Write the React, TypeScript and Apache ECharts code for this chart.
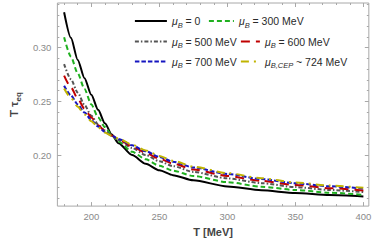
import React, { useEffect, useRef } from "react";
import * as echarts from "echarts";

const T_VALUES = [180, 185, 190, 195, 200, 205, 210, 215, 220, 230, 240, 250, 260, 275, 300, 325, 350, 375, 400];

const MU_0 = [0.3328, 0.3090, 0.2885, 0.2715, 0.2560, 0.2420, 0.2295, 0.2190, 0.2110, 0.2000, 0.1918, 0.1858, 0.1813, 0.1765, 0.1708, 0.1672, 0.1647, 0.1628, 0.1615];
const MU_300 = [0.3096, 0.2915, 0.2760, 0.2615, 0.2470, 0.2350, 0.2260, 0.2185, 0.2125, 0.2030, 0.1960, 0.1900, 0.1855, 0.1805, 0.1748, 0.1705, 0.1675, 0.1650, 0.1630];
const MU_500 = [0.2846, 0.2705, 0.2580, 0.2465, 0.2365, 0.2285, 0.2228, 0.2180, 0.2140, 0.2065, 0.2000, 0.1942, 0.1897, 0.1843, 0.1783, 0.1738, 0.1702, 0.1675, 0.1655];
const MU_600 = [0.2738, 0.2630, 0.2525, 0.2430, 0.2350, 0.2278, 0.2222, 0.2182, 0.2145, 0.2080, 0.2020, 0.1966, 0.1921, 0.1866, 0.1806, 0.1759, 0.1721, 0.1692, 0.1670];
const MU_700 = [0.2645, 0.2555, 0.2470, 0.2395, 0.2325, 0.2265, 0.2215, 0.2180, 0.2150, 0.2090, 0.2035, 0.1983, 0.1938, 0.1884, 0.1824, 0.1776, 0.1737, 0.1709, 0.1689];
const MU_CEP = [0.2618, 0.2532, 0.2450, 0.2378, 0.2315, 0.2258, 0.2210, 0.2178, 0.2155, 0.2097, 0.2043, 0.1992, 0.1947, 0.1892, 0.1832, 0.1784, 0.1745, 0.1716, 0.1695];

const X_MAJOR_TICKS = [200, 250, 300, 350, 400];
const X_MINOR_TICKS = [180, 190, 210, 220, 230, 240, 260, 270, 280, 290, 310, 320, 330, 340, 360, 370, 380, 390];
const Y_MAJOR_TICKS = [0.2, 0.25, 0.3];
const Y_MINOR_TICKS = [0.16, 0.17, 0.18, 0.19, 0.21, 0.22, 0.23, 0.24, 0.26, 0.27, 0.28, 0.29, 0.31, 0.32, 0.33, 0.34];

const SERIES_KEYS = ["mu0", "mu300", "mu500", "mu600", "mu700", "muCEP"];
const LEGEND_LABELS: Record<string, string> = {
  mu0: "{m|μ}{s|B}{t| = 0}",
  mu300: "{m|μ}{s|B}{t| = 300 MeV}",
  mu500: "{m|μ}{s|B}{t| = 500 MeV}",
  mu600: "{m|μ}{s|B}{t| = 600 MeV}",
  mu700: "{m|μ}{s|B}{t| = 700 MeV}",
  muCEP: "{m|μ}{s|B,CEP}{t| ~ 724 MeV}",
};
const X_NAME = "T [MeV]";
const Y_NAME = "{a|T τ}{b|eq}";

const X_MIN = 175.06;
const X_MAX = 404;
const Y_MIN = 0.1525;
const Y_MAX = 0.3414;

const FONT = "'Liberation Sans', Arial, sans-serif";
const FRAME = "#a8a8a8";

// legend item placement: [key, left, top, iconWidth]
const LEGEND_POS: [string, number, number, number][] = [
  ["mu0", 134, 15.5, 32],
  ["mu300", 208, 15.5, 25],
  ["mu500", 134, 36, 32],
  ["mu600", 240, 36, 19],
  ["mu700", 134, 56, 32],
  ["muCEP", 240, 56, 19],
];

export default function App() {
  const ref = useRef<HTMLDivElement>(null);
  useEffect(() => {
    if (!ref.current) return;
    const chart = echarts.init(ref.current, undefined, { renderer: "svg" });
    const seriesData = [MU_0, MU_300, MU_500, MU_600, MU_700, MU_CEP];
    const styles: any[] = [
      { color: "#000000", type: "solid" },
      { color: "#20b020", type: [5, 3] },
      { color: "#555555", type: [4, 2, 1.5, 2] },
      { color: "#c00000", type: [9, 6] },
      { color: "#1515c0", type: [4.5, 2] },
      { color: "#c0b400", type: [8, 5, 2, 5] },
    ];
    const mkX = (position: string, ticks: number[], len: number, labels: boolean) => ({
      type: "value",
      min: X_MIN,
      max: X_MAX,
      position,
      axisLine: { show: false },
      splitLine: { show: false },
      axisTick: { show: true, inside: true, length: len, customValues: ticks, lineStyle: { color: FRAME } },
      axisLabel: labels
        ? { show: true, customValues: ticks, color: "#8a8a8a", fontSize: 9.5, fontFamily: FONT, margin: 5 }
        : { show: false },
    });
    const mkY = (position: string, ticks: number[], len: number, labels: boolean) => ({
      type: "value",
      min: Y_MIN,
      max: Y_MAX,
      position,
      axisLine: { show: false },
      splitLine: { show: false },
      axisTick: { show: true, inside: true, length: len, customValues: ticks, lineStyle: { color: FRAME } },
      axisLabel: labels
        ? {
            show: true,
            customValues: ticks,
            color: "#8a8a8a",
            fontSize: 9.5,
            fontFamily: FONT,
            margin: 6,
            formatter: (v: number) => v.toFixed(2),
          }
        : { show: false },
    });
    const x0: any = mkX("bottom", X_MAJOR_TICKS, 4, true);
    x0.name = X_NAME;
    x0.nameLocation = "middle";
    x0.nameGap = 17;
    x0.nameTextStyle = { color: "#444", fontSize: 11, fontWeight: "bold", fontFamily: FONT };
    const y0: any = mkY("left", Y_MAJOR_TICKS, 4, true);
    y0.name = Y_NAME;
    y0.nameLocation = "middle";
    y0.nameGap = 25;
    y0.nameRotate = 90;
    y0.nameTextStyle = {
      color: "#444",
      fontFamily: FONT,
      rich: {
        a: { fontSize: 11.5, fontWeight: "bold", color: "#444", fontFamily: FONT, lineHeight: 16, verticalAlign: "middle" },
        b: { fontSize: 8, fontWeight: "bold", color: "#444", fontFamily: FONT, lineHeight: 16, verticalAlign: "bottom" },
      },
    };
    const richLegend = {
      m: { fontSize: 10.5, fontStyle: "italic", color: "#2a2a2a", fontFamily: FONT, lineHeight: 16, verticalAlign: "middle" },
      s: { fontSize: 7.5, fontStyle: "italic", color: "#2a2a2a", fontFamily: FONT, lineHeight: 16, verticalAlign: "bottom" },
      t: { fontSize: 10.5, color: "#2a2a2a", fontFamily: FONT, lineHeight: 16, verticalAlign: "middle" },
    };
    const legends = LEGEND_POS.map(([key, left, top, w]) => ({
      orient: "horizontal",
      left,
      top,
      padding: 0,
      itemWidth: w,
      itemHeight: 12,
      itemStyle: { opacity: 0, borderWidth: 0 },
      lineStyle: { width: 1.8 },
      formatter: (name: string) => LEGEND_LABELS[name],
      textStyle: { rich: richLegend, fontFamily: FONT },
      data: [key],
    }));
    chart.setOption({
      animation: false,
      backgroundColor: "#ffffff",
      grid: {
        left: 39,
        top: 3,
        right: 4.7,
        bottom: 35,
        show: true,
        borderColor: FRAME,
        borderWidth: 1,
        backgroundColor: "transparent",
      },
      legend: legends,
      xAxis: [
        x0,
        mkX("bottom", X_MINOR_TICKS, 2, false),
        mkX("top", X_MAJOR_TICKS, 4, false),
        mkX("top", X_MINOR_TICKS, 2, false),
      ],
      yAxis: [
        y0,
        mkY("left", Y_MINOR_TICKS, 2, false),
        mkY("right", Y_MAJOR_TICKS, 4, false),
        mkY("right", Y_MINOR_TICKS, 2, false),
      ],
      series: SERIES_KEYS.map((key, i) => ({
        name: key,
        type: "line",
        xAxisIndex: 0,
        yAxisIndex: 0,
        symbol: "none",
        smooth: 0.25,
        smoothMonotone: "x",
        data: T_VALUES.map((t, j) => [t, seriesData[i][j]]),
        lineStyle: { width: 2, color: styles[i].color, type: styles[i].type },
        itemStyle: { color: styles[i].color },
        z: 2 + i,
      })),
    });
    return () => chart.dispose();
  }, []);
  return (
    <div style={{ position: "absolute", left: 0, top: 0, width: 374, height: 242, background: "#fff" }}>
      <div ref={ref} style={{ width: 374, height: 242 }} />
    </div>
  );
}
